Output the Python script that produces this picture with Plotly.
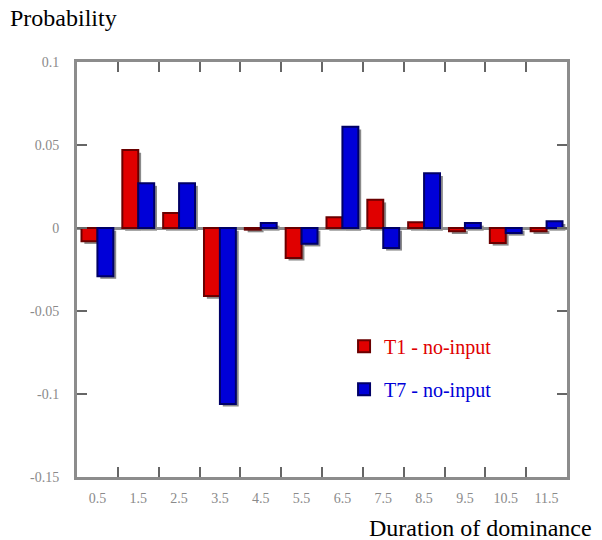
import plotly.graph_objects as go

categories = ["0.5", "1.5", "2.5", "3.5", "4.5", "5.5", "6.5", "7.5", "8.5", "9.5", "10.5", "11.5"]
t1_values = [-0.008, 0.047, 0.009, -0.041, -0.001, -0.018, 0.0065, 0.017, 0.0035, -0.002, -0.009, -0.002]
t7_values = [-0.029, 0.027, 0.027, -0.106, 0.003, -0.0095, 0.061, -0.012, 0.033, 0.003, -0.003, 0.004]
series_names = ["T1 - no-input", "T7 - no-input"]
y_tickvals = [-0.15, -0.1, -0.05, 0, 0.05, 0.1]
y_ticktext = ["-0.15", "-0.1", "-0.05", "0", "0.05", "0.1"]

SERIF = "Liberation Serif, Times New Roman, serif"
RED, RED_DARK = "#e00000", "#6a0000"
BLUE, BLUE_DARK = "#0000d8", "#000066"
SHADOW = "#8a8a8a"
BW = 0.39

fig = go.Figure()
# drop shadows (same data, shifted slightly right/down)
for vals, off in [(t1_values, -BW), (t7_values, 0.0)]:
    fig.add_trace(go.Bar(x=categories, y=vals, base=-0.0016, offset=off + 0.07, width=BW,
                         marker=dict(color=SHADOW, line=dict(width=0)),
                         showlegend=False, hoverinfo="skip"))
fig.add_trace(go.Bar(x=categories, y=t1_values, offset=-BW, width=BW,
                     name=f"<span style='color:{RED}'>{series_names[0]}</span>",
                     legendgroup="a",
                     marker=dict(color=RED, line=dict(color=RED_DARK, width=2))))
fig.add_trace(go.Bar(x=categories, y=t7_values, offset=0.0, width=BW,
                     name=f"<span style='color:{BLUE}'>{series_names[1]}</span>",
                     legendgroup="b",
                     marker=dict(color=BLUE, line=dict(color=BLUE_DARK, width=2))))

axis_common = dict(showline=True, linecolor="#8c8c8c", linewidth=3, mirror="ticks",
                   ticks="inside", ticklen=10, tickwidth=2, tickcolor="#666666",
                   showgrid=False,
                   tickfont=dict(family=SERIF, size=14, color="#8a8a8a"))

fig.update_xaxes(type="category", range=[-0.5, 11.5], tickson="boundaries",
                 ticklabelstandoff=6, **axis_common)
fig.update_yaxes(range=[-0.15, 0.1], tickvals=y_tickvals, ticktext=y_ticktext,
                 zeroline=True, zerolinecolor="#8c8c8c", zerolinewidth=3,
                 ticklabelstandoff=12, **axis_common)

fig.update_layout(
    width=602, height=540,
    margin=dict(l=77, r=35, t=62, b=63),
    plot_bgcolor="white", paper_bgcolor="white",
    font=dict(family=SERIF),
    barmode="overlay",
    showlegend=True,
    legend=dict(x=0.545, y=0.362, xanchor="left", yanchor="top",
                bgcolor="rgba(0,0,0,0)", tracegroupgap=14, traceorder="grouped",
                font=dict(family=SERIF, size=20)),
    annotations=[
        dict(text="Probability", xref="paper", yref="paper", x=-0.141, y=1.106,
             xanchor="left", yanchor="middle", showarrow=False,
             font=dict(family=SERIF, size=24, color="black")),
        dict(text="Duration of dominance", xref="paper", yref="paper", x=1.055, y=-0.123,
             xanchor="right", yanchor="middle", showarrow=False,
             font=dict(family=SERIF, size=24, color="black")),
    ],
)

fig.write_html("out.html")
